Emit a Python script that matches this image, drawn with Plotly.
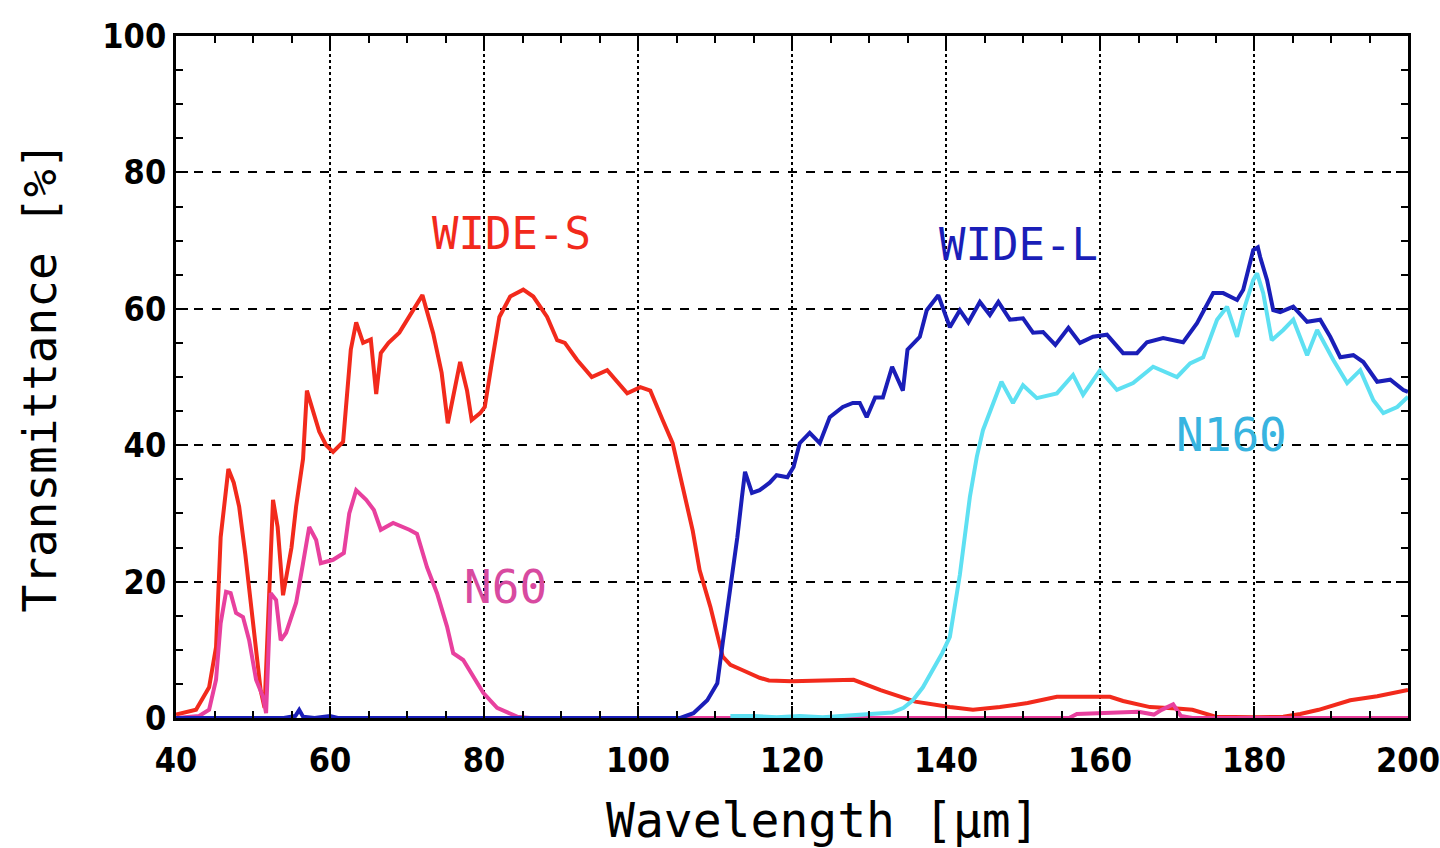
import plotly.graph_objects as go

# ---- data ----
wide_s_x = [40, 42.6, 44.3, 45.2, 45.8, 46.8, 47.5, 48.2, 49, 50, 51, 51.5, 52, 52.6, 53.2, 53.9, 55, 55.6,
            56.5, 57, 57.8, 58.6, 59.5, 60.4, 61.7, 62.3, 62.7, 63.4, 64.3, 65.3, 66, 66.6, 67.6, 69, 70.3,
            72, 73.4, 74.5, 75.3, 76.2, 76.9, 77.8, 78.4, 79.5, 80.1, 81, 82, 83.4, 85.1, 86.4, 88.2, 89.5,
            90.5, 92.1, 94, 96, 98.6, 100.3, 101.6, 103.2, 104.5, 105.8, 107.1, 108, 109.4, 111, 112, 113.6,
            115.8, 117, 120, 124, 128, 131.5, 136, 140.5, 143.5, 147, 150.6, 154.4, 158, 161.3, 163, 166.5,
            170, 172, 175, 180, 183.8, 186, 188.4, 192.5, 196, 200]
wide_s_y = [0.5, 1.2, 4.5, 10.4, 26.5, 36.5, 34.5, 31, 24, 14, 4, 1.5, 15, 32, 28, 18, 25, 31,
            38, 48, 45, 42, 40, 39, 40.5, 49.6, 54, 58, 55, 55.5, 47.5, 53.5, 55, 56.5, 58.8,
            62, 56.4, 50.6, 43.2, 48, 52.2, 48, 43.7, 44.7, 45.6, 52, 58.8, 61.8, 62.8, 61.8, 58.8, 55.4,
            55, 52.5, 50, 51, 47.6, 48.5, 48, 43.7, 40.3, 33.9, 27.5, 21.7, 16.3, 9, 7.8, 7,
            5.9, 5.5, 5.4, 5.5, 5.6, 4.1, 2.4, 1.6, 1.2, 1.6, 2.2, 3.1, 3.1, 3.1, 2.5, 1.6,
            1.4, 1.2, 0.2, 0.1, 0.2, 0.6, 1.2, 2.6, 3.2, 4.1]

n60_x = [40, 43, 44.3, 45.2, 45.8, 46.5, 47.1, 47.8, 48.7, 49.5, 50.4, 51.3, 51.7, 52.3, 53, 53.6, 54.3,
         55.6, 56.5, 57.3, 58.2, 58.8, 60.4, 61.8, 62.5, 63.4, 64.7, 65.7, 66.6, 68.2, 70.3, 71.3, 72.6,
         73.9, 75.2, 76, 77.3, 78.6, 79.9, 81.7, 84.3, 86, 100, 120, 140, 156, 157, 162, 165, 167, 168,
         169.5, 170.5, 172, 200]
n60_y = [0, 0.3, 1.2, 5.6, 13.9, 18.5, 18.3, 15.4, 14.8, 11.4, 5.6, 3.1, 0.7, 18.3, 17.3, 11.4, 12.5,
         16.9, 22.7, 28, 26.1, 22.7, 23.2, 24.2, 30, 33.4, 32, 30.5, 27.6, 28.6, 27.6, 27, 22.1,
         18.3, 13.4, 9.5, 8.5, 6, 3.7, 1.5, 0.2, 0, 0, 0, 0, 0, 0.6, 0.7, 0.9, 0.5, 1.2,
         2, 0.3, 0, 0]

wide_l_x = [40, 54, 55.5, 56, 56.5, 58, 60, 61, 105.5, 107.2, 109, 110.3, 111, 112, 112.9, 113.5, 113.9,
            114.8, 115.8, 117.1, 118, 119.4, 120.2, 121, 122.3, 123.6, 124.9, 126.6, 127.9, 128.8, 129.7,
            130.8, 131.8, 133, 134.4, 135, 136.6, 137.5, 139, 140.5, 141.8, 142.9, 144.4, 145.7, 146.8,
            148.3, 150, 151.3, 152.6, 154.2, 155.9, 157.4, 159.1, 160.9, 163, 164.8, 166.1, 168.2, 170.8,
            172.6, 174.7, 176, 177.8, 178.6, 179.9, 180.5, 180.8, 181.7, 182.5, 183.4, 185.1, 186.9,
            188.6, 189.9, 191.2, 192.9, 194.2, 196, 197.7, 199.4, 200]
wide_l_y = [0, 0, 0.3, 1.2, 0.2, 0, 0.3, 0, 0, 0.7, 2.6, 5.1, 11, 18.8, 26.5, 32.4, 36.1,
            33, 33.4, 34.5, 35.6, 35.3, 36.8, 40.3, 41.8, 40.3, 44.1, 45.6, 46.2, 46.2, 44.1,
            47, 47, 51.5, 48, 54, 55.9, 59.8, 62, 57.3, 59.8, 58, 61, 59.1, 61,
            58.4, 58.6, 56.5, 56.6, 54.7, 57.2, 55, 55.9, 56.2, 53.5, 53.5, 55.1, 55.7, 55.1,
            57.9, 62.3, 62.3, 61.3, 62.8, 68.6, 69, 67.6, 64.2, 59.8, 59.5, 60.3, 58.1,
            58.4, 55.9, 52.9, 53.2, 52.2, 49.3, 49.6, 48.1, 47.8]

n160_x = [112, 115, 118, 121, 124, 127, 130, 133, 134.5, 135.7, 137, 138.3, 139.5, 140.5, 141.8, 143.1,
          144, 144.8, 146.1, 147.2, 148.7, 150, 151.8, 154.4, 156.5, 157.8, 160, 162.2, 164.3, 166.9,
          170, 171.7, 173.4, 175.2, 176.5, 177.8, 178.8, 179.9, 180.4, 181.2, 182.3, 183.8, 185.1,
          186.9, 188.2, 190.3, 192.1, 193.8, 195.5, 196.8, 198.6, 200]
n160_y = [0.3, 0.3, 0.1, 0.3, 0.1, 0.3, 0.5, 0.8, 1.5, 2.6, 4.5, 7, 9.5, 11.9, 21, 32.4,
          38.3, 42.2, 46.2, 49.3, 46.2, 48.8, 46.9, 47.6, 50.3, 47.4, 51, 48.1, 49.1, 51.5,
          50, 52, 52.9, 58.4, 60.3, 55.9, 60.3, 64.2, 65.2, 62.3, 55.4, 56.9, 58.4,
          53.2, 56.9, 52.5, 49.1, 51, 46.6, 44.7, 45.6, 47.1]

x_ticks = [40, 60, 80, 100, 120, 140, 160, 180, 200]
y_ticks = [0, 20, 40, 60, 80, 100]

labels = ["WIDE-S", "WIDE-L", "N60", "N160"]
label_x = [83.6, 149.4, 82.8, 177.1]
label_y = [71.1, 69.4, 19.2, 41.5]

# ---- figure ----
RED = "#F22A1C"
BLUE = "#1A1EB8"
CYAN = "#5EE0F2"
PINK = "#E8409E"
MONO = "DejaVu Sans Mono, Liberation Mono, monospace"

fig = go.Figure()
fig.add_trace(go.Scatter(x=wide_s_x, y=wide_s_y, mode="lines", line=dict(color=RED, width=4), name="WIDE-S"))
fig.add_trace(go.Scatter(x=n60_x, y=n60_y, mode="lines", line=dict(color=PINK, width=4), name="N60"))
fig.add_trace(go.Scatter(x=n160_x, y=n160_y, mode="lines", line=dict(color=CYAN, width=4), name="N160"))
fig.add_trace(go.Scatter(x=wide_l_x, y=wide_l_y, mode="lines", line=dict(color=BLUE, width=4), name="WIDE-L"))

label_colors = [RED, BLUE, "#D84AA0", "#38B4E0"]
label_sizes = [44, 44, 46, 46]
for t, lx, ly, c, s in zip(labels, label_x, label_y, label_colors, label_sizes):
    fig.add_annotation(x=lx, y=ly, text=t, showarrow=False, font=dict(family=MONO, size=s, color=c))

# x-axis title (placed as annotation to match the reference's off-centre position)
fig.add_annotation(xref="paper", yref="paper", x=0.525, y=-0.15, xanchor="center", yanchor="middle",
                   text="Wavelength [μm]", showarrow=False, font=dict(family=MONO, size=48, color="black"))

tickfont = dict(family="Liberation Sans Narrow, DejaVu Sans Condensed, Liberation Sans, Arial", size=34,
                color="black", weight="bold")

fig.update_xaxes(range=[40, 200], tickvals=x_ticks, ticktext=[str(v) for v in x_ticks],
                 showline=True, linecolor="black", linewidth=3, mirror="allticks",
                 ticks="inside", ticklen=12, tickwidth=2, tickcolor="black", ticklabelstandoff=10,
                 ticklabeloverflow="allow",
                 minor=dict(dtick=5, tick0=40, ticks="inside", ticklen=7, tickwidth=2, tickcolor="black", showgrid=False),
                 showgrid=True, gridcolor="black", gridwidth=2, griddash="dot",
                 zeroline=False, tickfont=tickfont, automargin=False)
fig.update_yaxes(range=[0, 100], tickvals=y_ticks, ticktext=[str(v) for v in y_ticks],
                 showline=True, linecolor="black", linewidth=3, mirror="allticks",
                 ticks="inside", ticklen=12, tickwidth=2, tickcolor="black",
                 ticklabeloverflow="allow",
                 minor=dict(dtick=5, tick0=0, ticks="inside", ticklen=7, tickwidth=2, tickcolor="black", showgrid=False),
                 showgrid=True, gridcolor="black", gridwidth=2, griddash="dash",
                 zeroline=False, tickfont=tickfont, automargin=False,
                 title=dict(text="Transmittance [%]", standoff=32, font=dict(family=MONO, size=46, color="black")))

fig.update_layout(width=1440, height=848, margin=dict(l=176, r=32, t=36, b=130, autoexpand=False),
                  plot_bgcolor="white", paper_bgcolor="white", showlegend=False)

# remove the default page margin so the 1440x848 figure fills the window exactly
fig.write_html("out.html", config={"displayModeBar": False},
               post_script="document.body.style.margin='0';document.body.style.overflow='hidden';")
